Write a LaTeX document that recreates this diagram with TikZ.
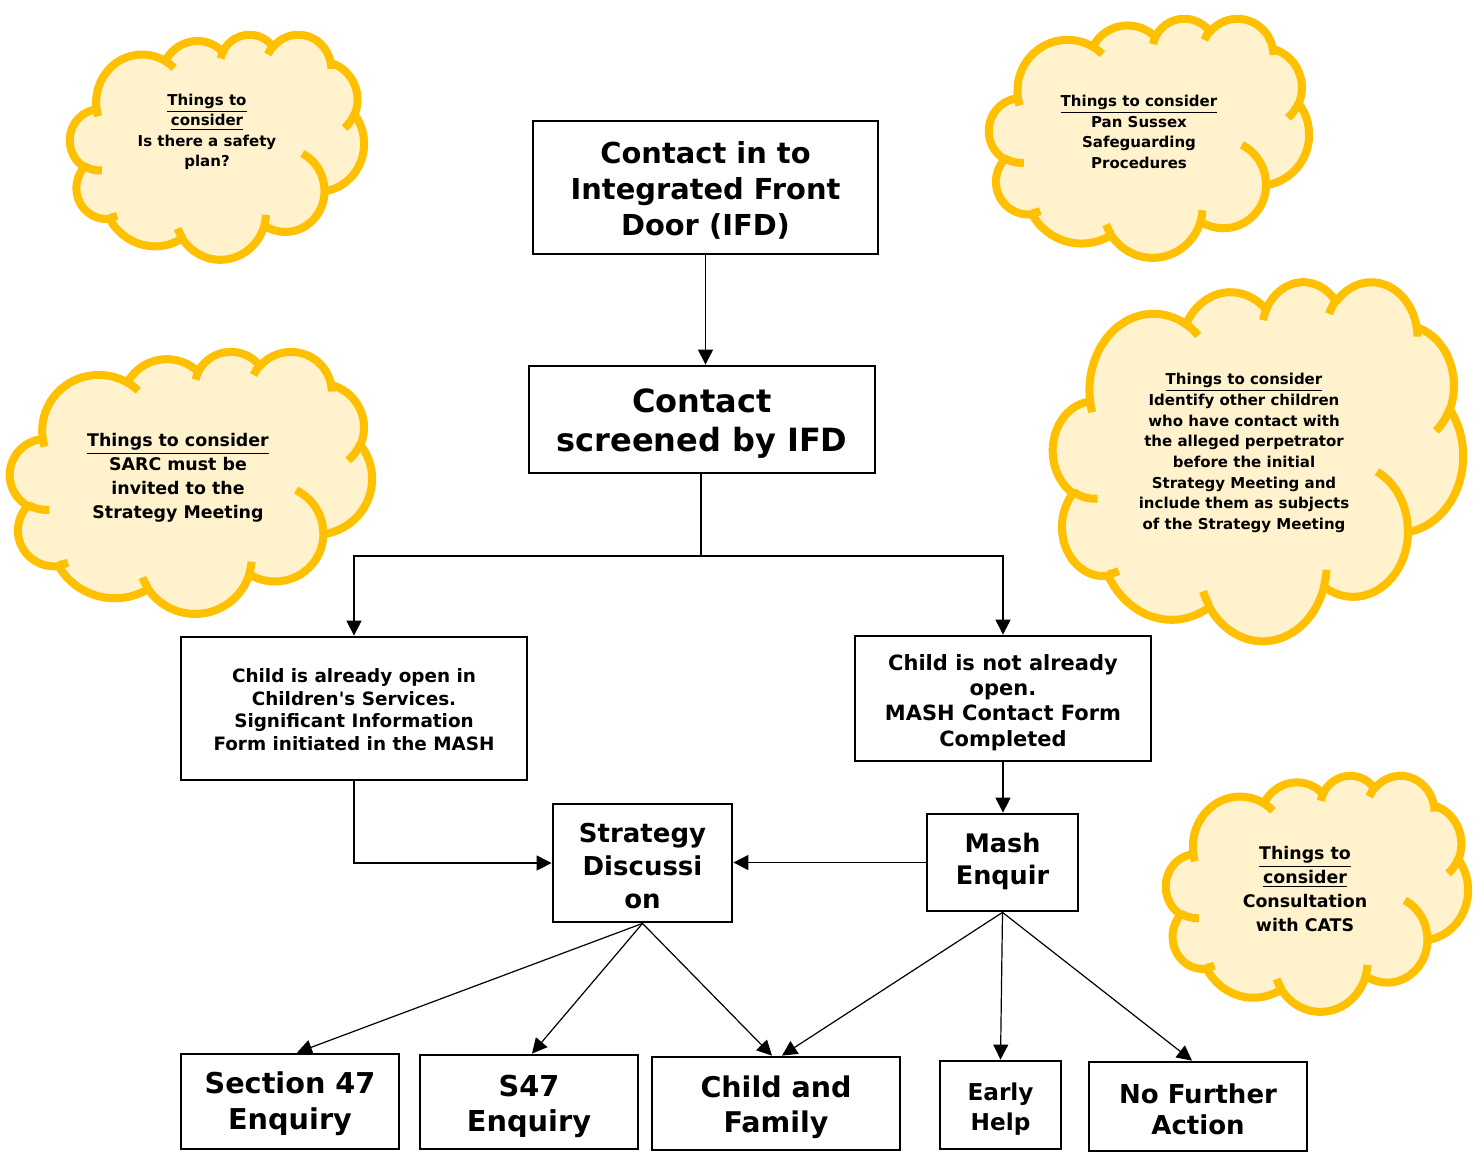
\documentclass[tikz,border=0pt]{standalone}
\usepackage{fontspec}
\setmainfont{DejaVu Sans}[Ligatures=TeXOff]
\usetikzlibrary{arrows.meta,calc}
\definecolor{cloudfill}{HTML}{FFF2CC}
\definecolor{cloudline}{HTML}{FFC000}
\tikzset{
  oarc/.style n args={4}{x radius=#1, y radius=#2,
    start angle={atan2(#1*sin(#3),#2*cos(#3))},
    delta angle={mod(atan2(#1*sin(#3+#4),#2*cos(#3+#4))-atan2(#1*sin(#3),#2*cos(#3))+720,360)}},
  box/.style={draw, line width=1.4pt, fill=white, inner sep=0pt},
  btext/.style={align=center, inner sep=0pt},
  conn/.style={line width=0.6pt, -{Triangle[length=7.5pt,width=7.5pt]}},
  cloudst/.style={line width=4pt, draw=cloudline, fill=cloudfill, line join=round},
  cloudin/.style={line width=4pt, draw=cloudline},
  cloudtext/.style={align=center, inner sep=0pt}
}
\newcommand\mycloud[4]{%
  \pgfmathsetmacro\cxs{#3/864}\pgfmathsetmacro\cys{#4/864}%
  \begin{scope}[shift={(#1,#2)}, x=\cxs pt, y=-\cys pt]
    \path[cloudst] (39.00,143.70)
      arc[oarc={67.53}{91.90}{-190.4875}{123.7805}]
      arc[oarc={53.33}{72.67}{-144.1024}{89.9452}]
      arc[oarc={43.65}{59.45}{-145.8079}{99.7230}]
      arc[oarc={48.57}{65.95}{-130.9861}{117.2417}]
      arc[oarc={53.33}{72.73}{-78.7089}{109.0269}]
      arc[oarc={67.75}{92.20}{-46.2673}{130.2690}]
      arc[oarc={57.85}{78.67}{0.6250}{114.0333}]
      arc[oarc={67.52}{92.15}{22.4516}{115.1726}]
      arc[oarc={77.20}{105.43}{66.2426}{75.7110}]
      arc[oarc={43.60}{59.18}{-274.9421}{146.7356}]
      arc[oarc={43.45}{59.45}{-246.8285}{152.5189}]
      -- cycle;
    \path[cloudin]
      (46.93,261.77) arc[oarc={43.45}{59.45}{86.7420}{26.4295}]
      (69.28,348.99) arc[oarc={43.60}{59.18}{73.6105}{11.4475}]
      (164.78,390.90) arc[oarc={67.52}{92.15}{137.6242}{14.0811}]
      (288.27,347.51) arc[oarc={67.52}{92.15}{6.4533}{15.9984}]
      (341.29,229.54) arc[oarc={57.85}{78.67}{-70.2924}{70.9174}]
      (417.98,153.54) arc[oarc={53.33}{72.73}{30.3180}{27.7515}]
      (383.24,54.26) arc[oarc={48.57}{65.95}{-13.7443}{14.8589}]
      (290.78,39.52) arc[oarc={48.57}{65.95}{-149.1815}{18.1954}]
      (221.41,47.20) arc[oarc={43.65}{59.45}{-163.4943}{17.6864}]
      (140.00,51.92) arc[oarc={67.53}{91.90}{-66.7070}{12.3194}]
      (41.27,157.89) arc[oarc={67.53}{91.90}{157.6544}{11.8582}];
  \end{scope}}
\begin{document}
\begin{tikzpicture}[x=0.5pt, y=-0.5pt]
\useasboundingbox[fill=white] (0,0) rectangle (1476,1157);

% clouds
\mycloud{70}{34}{294}{225}
\mycloud{989}{18}{320}{239}
\mycloud{10}{351}{362}{262}
\mycloud{1053}{281}{410}{359}
\mycloud{1166}{775}{302}{236}

\node[cloudtext, font=\fontsize{7.5}{10.25}\selectfont\bfseries] (t1) at (207,132)
  {\underline{Things to}\\\underline{consider}\\Is there a safety\\plan?};
\node[cloudtext, font=\fontsize{7.5}{10.25}\selectfont\bfseries] (t2) at (1139,132)
  {\underline{Things to consider}\\Pan Sussex\\Safeguarding\\Procedures};
\node[cloudtext, font=\fontsize{8.7}{12}\selectfont\bfseries] (t3) at (178,478)
  {\underline{Things to consider}\\SARC must be\\invited to the\\Strategy Meeting};
\node[cloudtext, font=\fontsize{7.5}{10.35}\selectfont\bfseries] (t4) at (1244,453)
  {\underline{Things to consider}\\Identify other children\\who have contact with\\the alleged perpetrator\\before the initial\\Strategy Meeting and\\include them as subjects\\of the Strategy Meeting};
\node[cloudtext, font=\fontsize{8.7}{12}\selectfont\bfseries] (t5) at (1305,889)
  {\underline{Things to}\\\underline{consider}\\Consultation\\with CATS};

% boxes
\node[box, minimum width=172.5pt, minimum height=66.5pt] (ifd) at (705.5,187.5) {};
\node[box, minimum width=173pt, minimum height=53.5pt] (scr) at (702,419.5) {};
\node[box, minimum width=173pt, minimum height=71.5pt] (left) at (354,708.5) {};
\node[box, minimum width=148pt, minimum height=62.5pt] (right) at (1003,698.5) {};
\node[box, minimum width=89.5pt, minimum height=59pt] (strat) at (642.5,863) {};
\node[box, minimum width=75.5pt, minimum height=48.5pt] (mash) at (1002.5,862.5) {};
\node[box, minimum width=109pt, minimum height=47.5pt] (sec) at (290,1101.5) {};
\node[box, minimum width=109pt, minimum height=47pt] (s47) at (529,1102) {};
\node[box, minimum width=124pt, minimum height=46.5pt] (cf) at (776,1103.5) {};
\node[box, minimum width=60.5pt, minimum height=44pt] (eh) at (1000.5,1105) {};
\node[box, minimum width=109pt, minimum height=44.5pt] (nfa) at (1198,1106.5) {};

% box texts
\node[btext, font=\fontsize{14.45}{18}\selectfont\bfseries] (ifdt) at ($(ifd.center)+(0,3)$)
  {Contact in to\\Integrated Front\\Door (IFD)};
\node[btext, font=\fontsize{16}{19.5}\selectfont\bfseries] (scrt) at ($(scr.center)+(0,4)$)
  {Contact\\screened by IFD};
\node[btext, font=\fontsize{9.2}{11.25}\selectfont\bfseries] (leftt) at ($(left.center)+(0,1)$)
  {Child is already open in\\Children's Services.\\Significant Information\\Form initiated in the MASH};
\node[btext, font=\fontsize{10.5}{12.6}\selectfont\bfseries] (rightt) at ($(right.center)+(0,4)$)
  {Child is not already\\open.\\MASH Contact Form\\Completed};
\node[btext, font=\fontsize{13}{16.5}\selectfont\bfseries] (stratt) at ($(strat.center)+(0,3)$)
  {Strategy\\Discussi\\on};
\node[btext, font=\fontsize{12.75}{16}\selectfont\bfseries] (masht) at ($(mash.center)+(0,-1)$)
  {Mash\\Enquir};
\node[btext, font=\fontsize{14.35}{18}\selectfont\bfseries] (sect) at ($(sec.center)+(0,2)$)
  {Section 47\\Enquiry};
\node[btext, font=\fontsize{14.4}{17.5}\selectfont\bfseries] (s47t) at ($(s47.center)+(0,4)$)
  {S47\\Enquiry};
\node[btext, font=\fontsize{14.25}{17.5}\selectfont\bfseries] (cft) at ($(cf.center)+(0,4)$)
  {Child and\\Family};
\node[btext, font=\fontsize{11.6}{15}\selectfont\bfseries] (eht) at ($(eh.center)+(0,4)$)
  {Early\\Help};
\node[btext, font=\fontsize{13}{15.5}\selectfont\bfseries] (nfat) at ($(nfa.center)+(0,3)$)
  {No Further\\Action};

% connectors
\draw[conn] (ifd.south) -- (ifd.south |- scr.north);
\coordinate (split) at (701,556);
\draw[line width=0.6pt] (scr.south -| split) -- (split);
\draw[conn] (split) -| (left.north);
\draw[conn] (split) -| (right.north);
\draw[conn] (left.south) |- (strat.west);
\draw[conn] (right.south) -- (right.south |- mash.north);
\draw[conn] (mash.west) -- (mash.west -| strat.east);
\draw[conn] (strat.south) -- ([xshift=3.5pt]sec.north);
\draw[conn] (strat.south) -- ([xshift=1.5pt]s47.north);
\draw[conn] (strat.south) -- ([xshift=-2pt]cf.north);
\draw[conn] (mash.south) -- ([xshift=3pt]cf.north);
\draw[conn] (mash.south) -- (eh.north);
\draw[conn] (mash.south) -- ([xshift=-3pt]nfa.north);
\end{tikzpicture}
\end{document}
